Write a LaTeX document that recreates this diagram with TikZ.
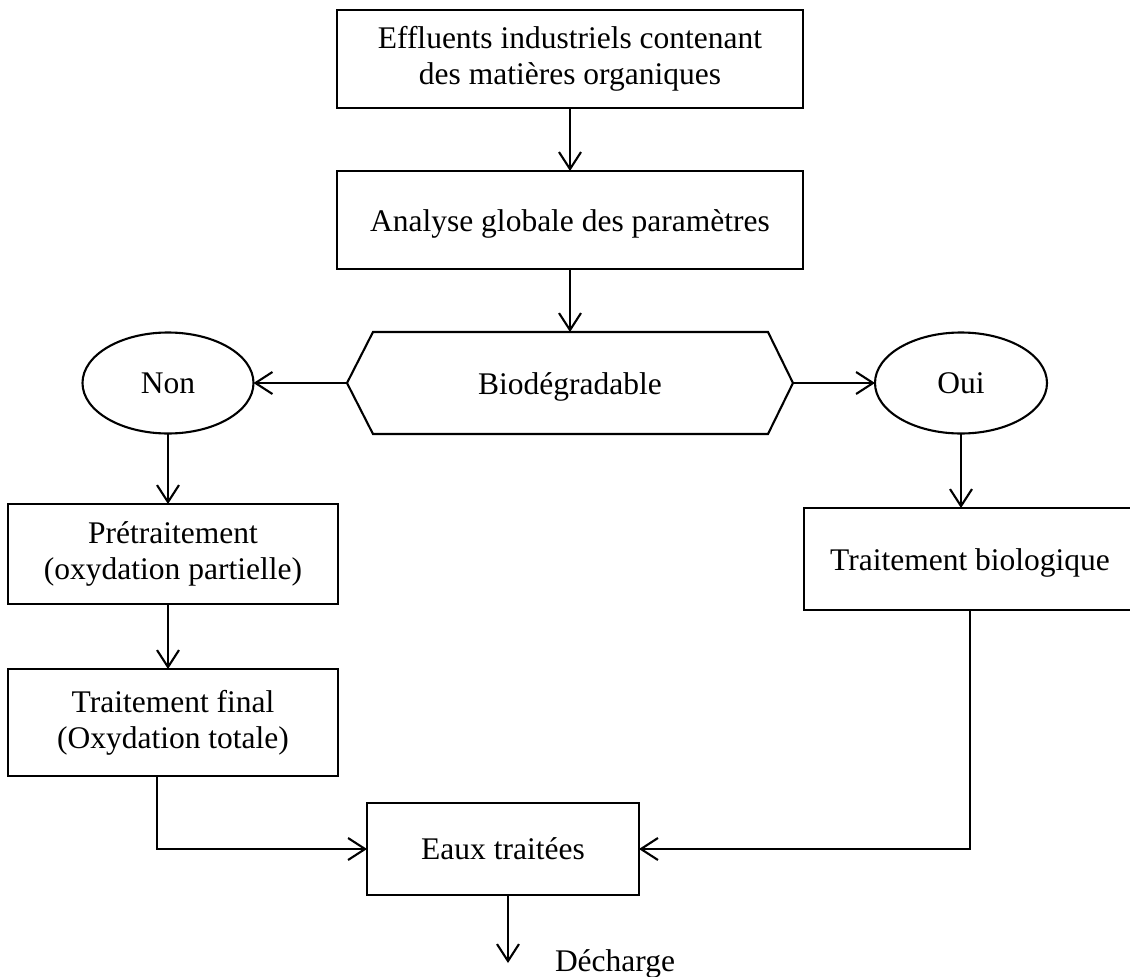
\documentclass[tikz,border=0pt]{standalone}
\usepackage{fontspec}
\setmainfont{Liberation Serif}
\usetikzlibrary{arrows.meta,calc,shapes.geometric}
\newcommand{\flowfont}{\fontsize{31.5}{36}\selectfont}
% lower a single line of text inside its frame without changing the frame
\newcommand{\lowered}[1]{\raisebox{-4pt}[\height][\depth]{#1}}
\begin{document}
\begin{tikzpicture}[x=1pt,y=-1pt,
  every node/.style={font=\flowfont, align=center, inner sep=0pt, outer sep=0pt},
  box/.style={draw, line width=2.1pt, rectangle},
  oval/.style={draw, line width=2.1pt, ellipse},
  link/.style={line width=2.1pt, -{Straight Barb[length=17pt,width=22pt,line width=2.1pt]}},
  plain/.style={line width=2.1pt}]
  \useasboundingbox (0,0) rectangle (1130,977);
  \clip (0,0) rectangle (1130,977);

  % main column
  \node[box, minimum width=466, minimum height=98] (src) at (570,59)
    {Effluents industriels contenant\\des matières organiques};
  \node[box, minimum width=466, minimum height=98] (ana) at (570,220)
    {\lowered{Analyse globale des paramètres}};

  % decision hexagon
  \node[minimum width=446, minimum height=102] (dec) at (570,383) {\lowered{Biodégradable}};
  \draw[plain, line join=miter] (dec.west) -- ($(dec.north west)+(26,0)$)
    -- ($(dec.north east)+(-25,0)$) -- (dec.east)
    -- ($(dec.south east)+(-25,0)$) -- ($(dec.south west)+(26,0)$) -- cycle;

  \node[oval, minimum width=171, minimum height=101] (non) at (168,383) {Non};
  \node[oval, minimum width=172, minimum height=101] (oui) at (961,383) {Oui};

  % left branch
  \node[box, minimum width=330, minimum height=100] (pre) at (173,554)
    {Prétraitement\\(oxydation partielle)};
  \node[box, minimum width=330, minimum height=107] (fin) at (173,722.5)
    {Traitement final\\(Oxydation totale)};

  % right branch
  \node[box, minimum width=332, minimum height=102] (bio) at (970,559)
    {\lowered{Traitement biologique}};

  % outlet
  \node[box, minimum width=272, minimum height=92] (eau) at (503,849) {Eaux traitées};
  \coordinate (out) at (508,963);
  \node[anchor=base west] (dch) at (555,971) {Décharge};

  % connectors
  \draw[link] (src.south) -- (ana.north);
  \draw[link] (ana.south) -- (dec.north);
  \draw[link] (dec.west) -- (non.east);
  \draw[link] (dec.east) -- (oui.west);
  \draw[link] (non.south) -- (non.south |- pre.north);
  \draw[link] (pre.south -| non.south) -- (fin.north -| non.south);
  \draw[link] ($(fin.south)+(-16,0)$) |- (eau.west);
  \draw[link] (oui.south) -- (oui.south |- bio.north);
  \draw[link] (bio.south) |- (eau.east);
  \draw[link] (eau.south -| out) -- (out);
\end{tikzpicture}
\end{document}
